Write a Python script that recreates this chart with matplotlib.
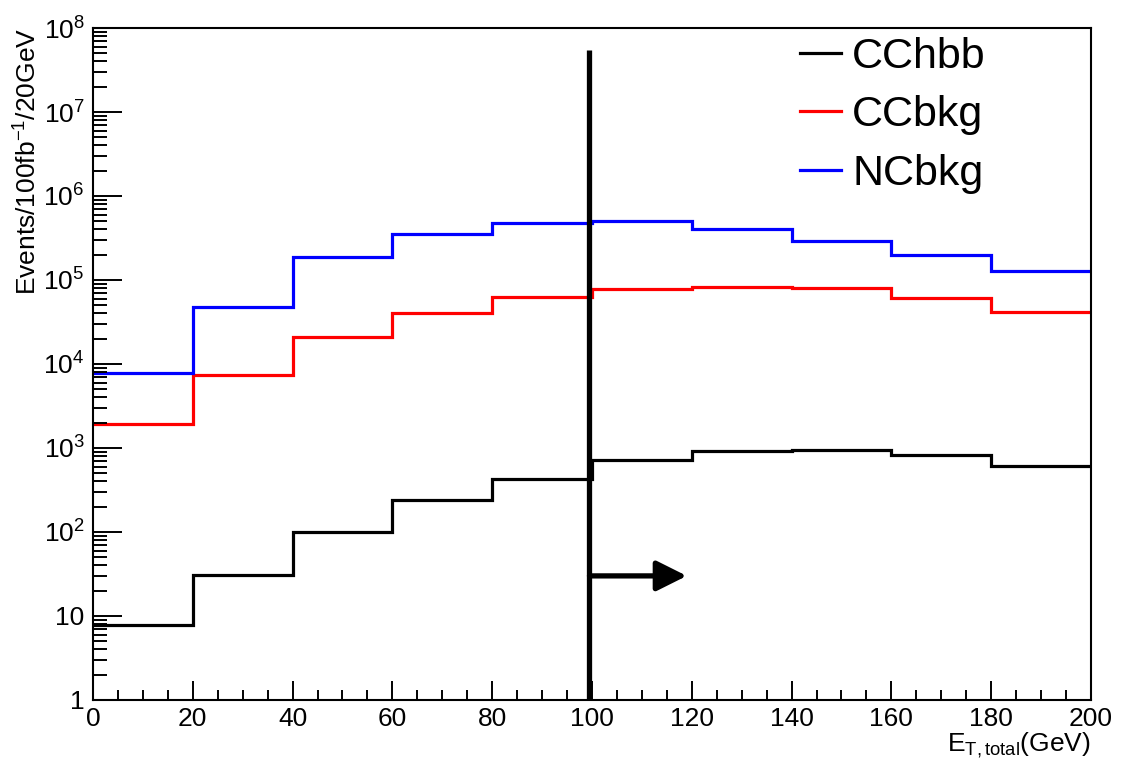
import math
import matplotlib
matplotlib.use('Agg')
import matplotlib.pyplot as plt
from matplotlib.ticker import FixedLocator, FuncFormatter, MultipleLocator

plt.rcParams['font.family'] = ['Liberation Sans', 'DejaVu Sans']
plt.rcParams['mathtext.fontset'] = 'custom'
plt.rcParams['mathtext.rm'] = 'Liberation Sans'
plt.rcParams['mathtext.it'] = 'Liberation Sans'

# bin edges in E_T,total (GeV)
edges = [0, 20, 40, 60, 80, 100, 120, 140, 160, 180, 200]

cchbb = [7.8, 31, 101, 240, 432, 715, 930, 955, 815, 615]
ccbkg = [1930, 7400, 20800, 40100, 62200, 77500, 81900, 79600, 60600, 42000]
ncbkg = [7750, 48100, 186000, 350000, 473000, 500000, 405000, 291000, 197000, 129000]

labels = ['CChbb', 'CCbkg', 'NCbkg']
colors = ['black', 'red', 'blue']

cut_x = 99.5
cut_top = 5.5e7
arrow_y = 30
arrow_end = 119

fig = plt.figure(figsize=(11.35, 7.78), dpi=100)
ax = fig.add_axes([0.0819, 0.1003, 0.8793, 0.8637])

for vals, lab, col in zip([cchbb, ccbkg, ncbkg], labels, colors):
    ax.stairs(vals, edges, color=col, lw=2.3, label=lab, baseline=None)

# cut line and direction arrow
ax.plot([cut_x, cut_x], [1, cut_top], color='black', lw=3.8, solid_capstyle='butt')
ax.annotate('', xy=(arrow_end, arrow_y), xytext=(cut_x, arrow_y),
            arrowprops=dict(arrowstyle='-|>', lw=3.8, color='black',
                            mutation_scale=46, shrinkA=0, shrinkB=0))

ax.set_yscale('log')
ax.set_xlim(0, 200)
ax.set_ylim(1, 1e8)

ax.xaxis.set_major_locator(MultipleLocator(20))
ax.xaxis.set_minor_locator(MultipleLocator(5))
ax.yaxis.set_major_locator(FixedLocator([10.0 ** k for k in range(9)]))
minors = [m * 10.0 ** k for k in range(8) for m in range(2, 10)]
ax.yaxis.set_minor_locator(FixedLocator(minors))


def ylab(v, pos):
    k = int(round(math.log10(v)))
    if k == 0:
        return '1'
    if k == 1:
        return '10'
    return '$10^{%d}$' % k


ax.yaxis.set_major_formatter(FuncFormatter(ylab))

ax.tick_params(axis='both', which='both', direction='in', width=1.4,
               top=False, right=False, labelsize=19)
ax.tick_params(axis='y', which='major', length=21, pad=6)
ax.tick_params(axis='y', which='minor', length=10)
ax.tick_params(axis='x', which='major', length=14, pad=5)
ax.tick_params(axis='x', which='minor', length=7)
for s in ax.spines.values():
    s.set_linewidth(1.5)

ax.set_ylabel('Events/100fb$^{-1}$/20GeV', fontsize=19, loc='top', labelpad=1)
ax.set_xlabel('E$_{T,total}$(GeV)', fontsize=19, loc='right', labelpad=0)

ax.legend(loc='upper left', bbox_to_anchor=(0.708, 0.986), frameon=False,
          fontsize=31, handlelength=0.97, handletextpad=0.25,
          labelspacing=0.42, borderaxespad=0, borderpad=0)

fig.savefig('out.png', dpi=100)
